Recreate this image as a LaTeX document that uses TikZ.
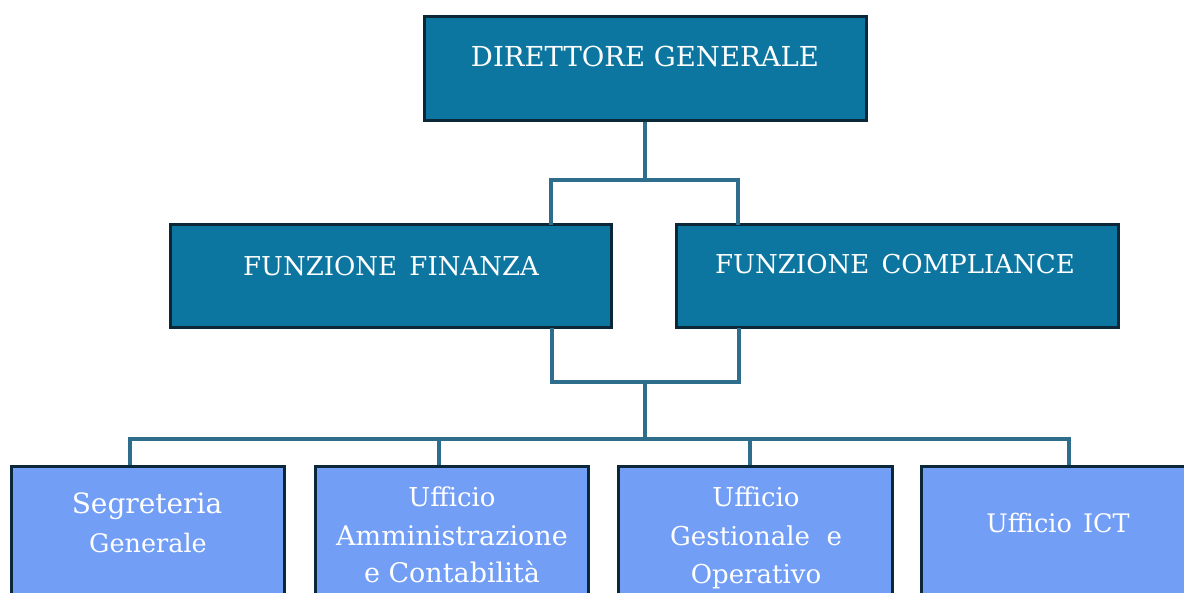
\documentclass[tikz,border=0pt]{standalone}
\usepackage{fontspec}
\setmainfont{DejaVu Serif}
\usetikzlibrary{calc}
\definecolor{darkfill}{HTML}{0D76A0}
\definecolor{boxedge}{HTML}{0A2837}
\definecolor{lightfill}{HTML}{729EF5}
\definecolor{linkcol}{HTML}{2E6E8C}
\tikzset{
  darkbox/.style={draw=boxedge, fill=darkfill, line width=3pt, rectangle, inner sep=0pt},
  lightbox/.style={draw=boxedge, fill=lightfill, line width=3pt, rectangle, inner sep=0pt},
  toptext/.style={text=white, inner sep=0pt, anchor=base, font=\fontsize{26}{32}\selectfont},
  subtext/.style={text=white, inner sep=0pt, anchor=base, font=\fontsize{26}{38}\selectfont},
  link/.style={draw=linkcol, line width=3.4pt}
}
\begin{document}
\begin{tikzpicture}[x=1pt,y=-1pt]
\useasboundingbox (0,0) rectangle (1184,593);
\clip (0,0) rectangle (1184,593);
% top level
\node[darkbox, minimum width=442pt, minimum height=104pt] (dg) at (645,69) {};
\node[toptext, font=\fontsize{27.5}{32}\selectfont] (dgt) at (645,67) {DIRETTORE GENERALE};
% second level
\node[darkbox, minimum width=441pt, minimum height=103pt] (ff) at (390.5,276.5) {};
\node[toptext] (fft) at (391,276) {FUNZIONE\hspace{4pt} FINANZA};
\node[darkbox, minimum width=442pt, minimum height=103pt] (fc) at (897,276.5) {};
\node[toptext] (fct) at (895,274) {FUNZIONE\hspace{4pt} COMPLIANCE};
% third level
\node[lightbox, minimum width=273pt, minimum height=170pt] (sg) at (147.5,552) {};
\node[lightbox, minimum width=273pt, minimum height=170pt] (ac) at (451.5,552) {};
\node[lightbox, minimum width=274pt, minimum height=170pt] (go) at (755,552) {};
\node[lightbox, minimum width=274pt, minimum height=170pt] (ict) at (1058,552) {};
\node[subtext, font=\fontsize{28}{38}\selectfont] (sgt1) at (147,513) {Segreteria};
\node[subtext, font=\fontsize{25.5}{38}\selectfont] (sgt2) at (148,552) {Generale};
\node[subtext] (act1) at (452,507) {Ufficio};
\node[subtext, font=\fontsize{27}{38}\selectfont] (act2) at (452,545) {Amministrazione};
\node[subtext, font=\fontsize{27}{38}\selectfont] (act3) at (452,582) {e Contabilità};
\node[subtext] (got1) at (756,507) {Ufficio};
\node[subtext] (got2) at (756,545) {Gestionale\ \ e};
\node[subtext] (got3) at (756,583) {Operativo};
\node[subtext, font=\fontsize{25.5}{38}\selectfont] (ictt) at (1058,532) {Ufficio\hspace{3pt} ICT};
% connectors
\coordinate (j1) at (645,180);
\coordinate (j2) at (645,382);
\coordinate (j3) at (645,439);
\draw[link] (dg.south) -- (j1);
\draw[link, line cap=rect] (551,180) -- (738,180);
\draw[link] (551,180) -- (551,225);
\draw[link] (738,180) -- (738,225);
\draw[link, line join=miter] (552,328) -- (552,382) -- (739,382) -- (739,328);
\draw[link] (j2) -- (j3);
\draw[link, line cap=rect] (130,439) -- (1069,439);
\draw[link] (130,439) -- (sg.north -| 130,0);
\draw[link] (ac.north -| 439,0) -- (439,439);
\draw[link] (go.north -| 750,0) -- (750,439);
\draw[link] (ict.north -| 1069,0) -- (1069,439);
\end{tikzpicture}
\end{document}
